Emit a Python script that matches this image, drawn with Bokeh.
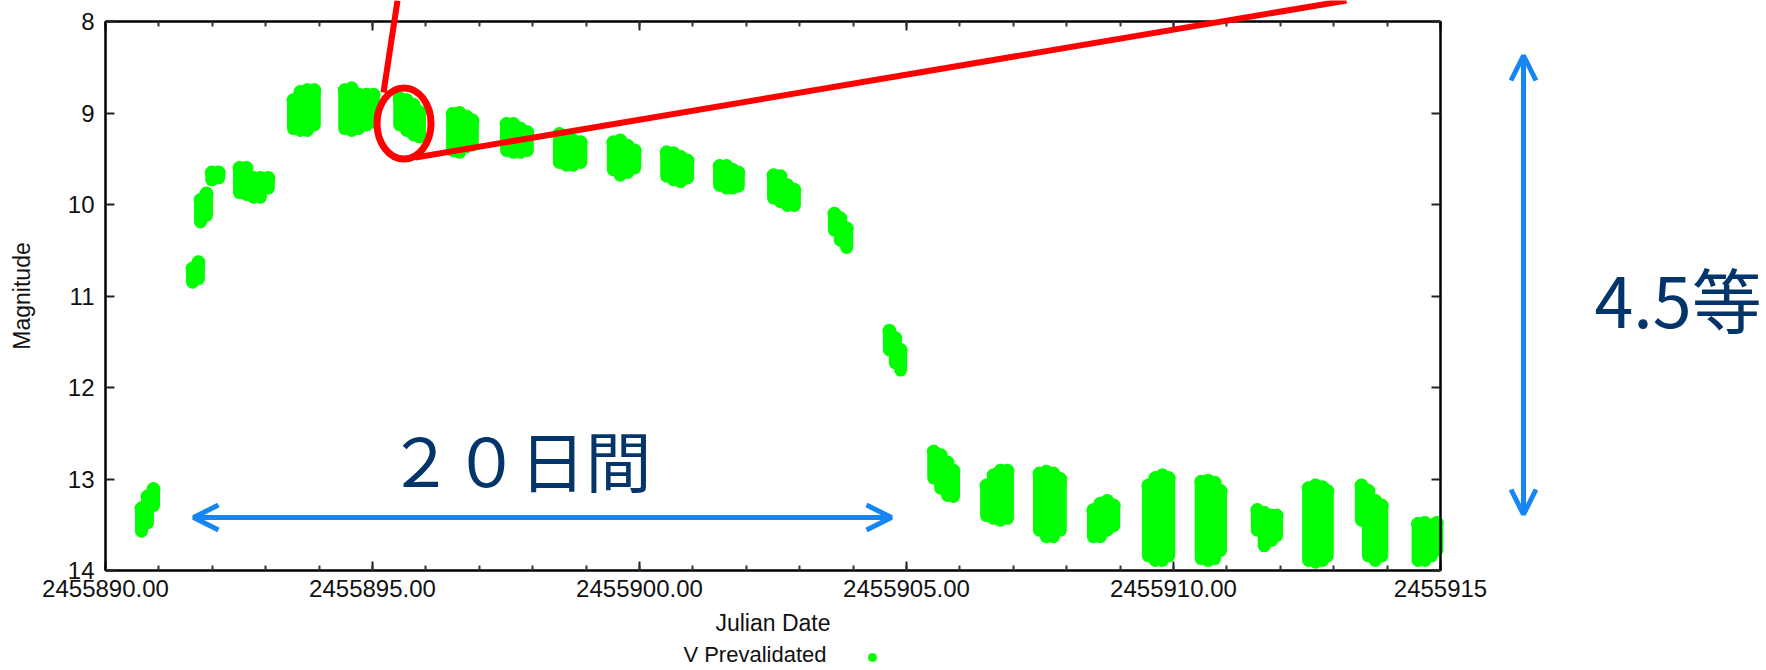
from bokeh.plotting import figure
from bokeh.models import (Range1d, LinearAxis, FixedTicker, Arrow, OpenHead,
                          Label, Legend, LegendItem, ColumnDataSource)
from bokeh.embed import file_html
from bokeh.resources import INLINE

JD0 = 2455890

# V-band light curve, one vertical strip per sampled time:
# days after JD0, brightest and faintest magnitude seen at that time
night_day = [
    0.674, 0.787, 0.899,
    1.63, 1.74,
    1.78, 1.89,
    1.99, 2.12,
    2.51, 2.64, 2.77, 2.90, 3.05,
    3.52, 3.65, 3.78, 3.91,
    4.48, 4.61, 4.74, 4.89, 5.02,
    5.51, 5.64, 5.77, 5.88,
    6.50, 6.63, 6.76, 6.87,
    7.51, 7.64, 7.77, 7.90,
    8.50, 8.63, 8.76, 8.90,
    9.51, 9.64, 9.78, 9.91,
    10.51, 10.64, 10.77, 10.90,
    11.50, 11.63, 11.74, 11.85,
    12.51, 12.64, 12.77, 12.90,
    13.65, 13.76, 13.88,
    14.68, 14.79, 14.89,
    15.51, 15.64, 15.77, 15.88,
    16.50, 16.63, 16.76, 16.89,
    17.49, 17.62, 17.75, 17.88,
    18.50, 18.63, 18.76, 18.88,
    19.53, 19.66, 19.79, 19.91,
    20.52, 20.65, 20.77, 20.88,
    21.57, 21.70, 21.84, 21.93,
    22.53, 22.66, 22.79, 22.88,
    23.52, 23.65, 23.78, 23.90,
    24.58, 24.71, 24.83, 24.93,
]
mag_bright = [
    13.32, 13.19, 13.11,
    10.70, 10.63,
    9.95, 9.88,
    9.65, 9.65,
    9.60, 9.60, 9.71, 9.71, 9.71,
    8.86, 8.77, 8.75, 8.75,
    8.75, 8.73, 8.80, 8.80, 8.80,
    8.84, 8.86, 8.91, 8.99,
    9.01, 9.00, 9.04, 9.08,
    9.12, 9.12, 9.17, 9.21,
    9.23, 9.25, 9.30, 9.32,
    9.32, 9.30, 9.36, 9.41,
    9.43, 9.44, 9.48, 9.52,
    9.58, 9.58, 9.62, 9.65,
    9.68, 9.69, 9.79, 9.84,
    10.10, 10.15, 10.26,
    11.38, 11.46, 11.59,
    12.70, 12.74, 12.82, 12.91,
    13.07, 12.96, 12.91, 12.91,
    12.94, 12.92, 12.94, 13.00,
    13.34, 13.27, 13.24, 13.29,
    13.07, 12.99, 12.96, 12.99,
    13.03, 13.02, 13.04, 13.13,
    13.34, 13.37, 13.40, 13.40,
    13.10, 13.07, 13.09, 13.13,
    13.07, 13.13, 13.24, 13.29,
    13.49, 13.48, 13.51, 13.48,
]
mag_faint = [
    13.57, 13.48, 13.29,
    10.85, 10.81,
    10.19, 10.12,
    9.73, 9.71,
    9.87, 9.89, 9.92, 9.92, 9.82,
    9.17, 9.19, 9.19, 9.13,
    9.17, 9.19, 9.17, 9.13, 9.10,
    9.13, 9.19, 9.24, 9.26,
    9.41, 9.43, 9.37, 9.35,
    9.41, 9.43, 9.43, 9.41,
    9.54, 9.57, 9.57, 9.54,
    9.62, 9.68, 9.65, 9.60,
    9.69, 9.73, 9.75, 9.71,
    9.79, 9.82, 9.82, 9.80,
    9.93, 9.97, 10.01, 10.01,
    10.28, 10.39, 10.47,
    11.59, 11.73, 11.81,
    12.99, 13.10, 13.18, 13.19,
    13.40, 13.43, 13.45, 13.43,
    13.56, 13.63, 13.63, 13.56,
    13.63, 13.63, 13.56, 13.51,
    13.84, 13.89, 13.89, 13.84,
    13.87, 13.89, 13.87, 13.78,
    13.56, 13.73, 13.67, 13.62,
    13.89, 13.91, 13.89, 13.84,
    13.45, 13.84, 13.89, 13.84,
    13.89, 13.89, 13.84, 13.78,
]

x_ticks = [2455890, 2455895, 2455900, 2455905, 2455910, 2455915]
x_tick_labels = ["2455890.00", "2455895.00", "2455900.00",
                 "2455905.00", "2455910.00", "2455915"]
x_minor_ticks = list(range(2455890, 2455916))
y_ticks = [8, 9, 10, 11, 12, 13, 14]
y_tick_labels = ["8", "9", "10", "11", "12", "13", "14"]

GREEN = "#00ff00"
RED = "#ff0000"
BLUE = "#1686f4"
NAVY = "#03356a"
TEXT = "#111111"
TICK_FONT = "Liberation Sans"
CJK_FONT = "Noto Sans CJK JP"

# canvas size and the pixel box holding the light curve
W, H = 1766, 670
BOX_LEFT, BOX_TOP = 105, 21
PX_PER_DAY = 1335 / 25
PX_PER_MAG = 549 / 6
X_MIN, X_MAX = x_ticks[0], x_ticks[-1]
Y_MIN, Y_MAX = y_ticks[0], y_ticks[-1]


def to_x(px):
    return JD0 + (px - BOX_LEFT) / PX_PER_DAY


def to_y(py):
    return Y_MIN + (py - BOX_TOP) / PX_PER_MAG


# the frame spans the whole canvas so the annotations around the box are
# not clipped; the axes are pinned to the edges of the light-curve box
p = figure(width=W, height=H,
           x_range=Range1d(to_x(0), to_x(W)), y_range=Range1d(to_y(H), to_y(0)),
           output_backend="svg", toolbar_location=None,
           min_border=0, x_axis_label="Julian Date", y_axis_label="Magnitude")
p.outline_line_color = None
p.grid.visible = False
p.background_fill_color = "white"
p.border_fill_color = "white"

src = ColumnDataSource(dict(
    jd=[JD0 + d for d in night_day],
    bright=mag_bright,
    faint=mag_faint,
))
p.segment(x0="jd", y0="bright", x1="jd", y1="faint", source=src,
          line_color=GREEN, line_width=13, line_cap="round")
pts = p.scatter(x="jd", y="bright", source=src, size=13,
                fill_color=GREEN, line_color=GREEN)

# axes: gnuplot-like box with inward ticks on all sides
x_ticker = FixedTicker(ticks=x_ticks, minor_ticks=x_minor_ticks)
y_ticker = FixedTicker(ticks=y_ticks, minor_ticks=[])

xb = p.xaxis[0]
yl = p.yaxis[0]
xt = LinearAxis()
yr = LinearAxis()
p.add_layout(xt, "above")
p.add_layout(yr, "right")

xb.fixed_location = Y_MAX
xt.fixed_location = Y_MIN
yl.fixed_location = X_MIN
yr.fixed_location = X_MAX

for ax, tk, bounds in ((xb, x_ticker, (X_MIN, X_MAX)), (xt, x_ticker, (X_MIN, X_MAX)),
                       (yl, y_ticker, (Y_MIN, Y_MAX)), (yr, y_ticker, (Y_MIN, Y_MAX))):
    ax.ticker = tk
    ax.bounds = bounds
    ax.axis_line_color = "black"
    ax.axis_line_width = 2.5
    ax.major_tick_line_color = "#222222"
    ax.major_tick_line_width = 2
    ax.minor_tick_line_color = "#333333"
    ax.minor_tick_line_width = 2
    ax.major_tick_in = 9
    ax.major_tick_out = 0
    ax.minor_tick_in = 5
    ax.minor_tick_out = 0

for ax in (xt, yr):
    ax.major_label_text_color = None

xb.major_label_overrides = {t: s for t, s in zip(x_ticks, x_tick_labels)}
yl.major_label_overrides = {t: s for t, s in zip(y_ticks, y_tick_labels)}
for ax in (xb, yl):
    ax.major_label_text_font = TICK_FONT
    ax.major_label_text_font_size = "24px"
    ax.major_label_text_color = TEXT
    ax.axis_label_text_font = TICK_FONT
    ax.axis_label_text_font_style = "normal"
    ax.axis_label_text_color = TEXT
    ax.axis_label_text_font_size = "23px"
xb.major_label_standoff = 9
xb.axis_label_standoff = 10
yl.major_label_standoff = 11
yl.axis_label_standoff = 30

# legend: text on the left, marker on the right
p.add_layout(Label(x=to_x(826), y=to_y(654), text="V Prevalidated",
                   text_align="right", text_baseline="middle",
                   text_font=TICK_FONT, text_font_size="22px",
                   text_color=TEXT))
legend = Legend(items=[LegendItem(label="", renderers=[pts])],
                location=(872 - 10, H - 657 - 10),
                padding=0, margin=0, spacing=0, label_standoff=0,
                glyph_width=20, glyph_height=20,
                border_line_alpha=0, background_fill_alpha=0)
p.add_layout(legend, "center")

# highlighted night and its leader lines
p.ellipse(x=[to_x(403.5)], y=[to_y(123)], width=[54 / PX_PER_DAY],
          height=[71 / PX_PER_MAG], fill_alpha=0, line_color=RED, line_width=7)
p.add_layout(Arrow(x_start=to_x(397), y_start=to_y(0), x_end=to_x(383), y_end=to_y(92),
                   end=None, line_color=RED, line_width=6))
p.add_layout(Arrow(x_start=to_x(415), y_start=to_y(157), x_end=to_x(1346), y_end=to_y(0),
                   end=None, line_color=RED, line_width=6))

# duration and amplitude arrows
p.add_layout(Arrow(x_start=to_x(193), y_start=to_y(517), x_end=to_x(891), y_end=to_y(517),
                   start=OpenHead(size=25, line_color=BLUE, line_width=5),
                   end=OpenHead(size=25, line_color=BLUE, line_width=5),
                   line_color=BLUE, line_width=5))
p.add_layout(Arrow(x_start=to_x(1523), y_start=to_y(514), x_end=to_x(1523), y_end=to_y(55),
                   start=OpenHead(size=25, line_color=BLUE, line_width=5),
                   end=OpenHead(size=25, line_color=BLUE, line_width=5),
                   line_color=BLUE, line_width=5))

p.add_layout(Label(x=to_x(519), y=to_y(457), text="２０日間", text_align="center",
                   text_baseline="alphabetic", text_font=CJK_FONT,
                   text_font_size="66px", text_color=NAVY))
p.add_layout(Label(x=to_x(1594), y=to_y(297), text="4.5等", text_align="left",
                   text_baseline="alphabetic", text_font=CJK_FONT,
                   text_font_size="70px", text_color=NAVY))

open("out.html", "w").write(file_html(p, INLINE))
